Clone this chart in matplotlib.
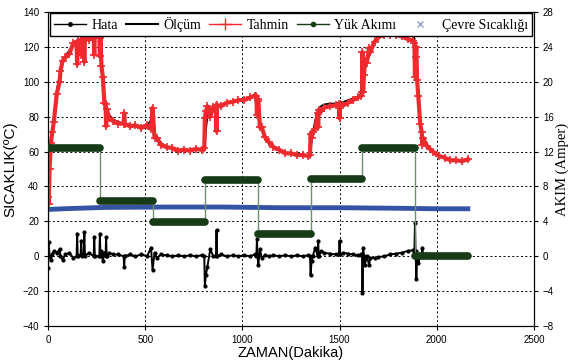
import numpy as np
import matplotlib.pyplot as plt
from matplotlib.lines import Line2D

plt.rcParams['font.family'] = ['Liberation Sans', 'DejaVu Sans']

# zaman (dakika), olcum (C), hata (C)
t = [0, 4, 8, 15, 22, 30, 45, 60, 64, 75, 90, 110, 130, 147, 150, 153, 168, 171, 174,
     184, 187, 190, 210, 235, 238, 241, 264, 267, 270, 275, 282, 290, 296, 299, 302,
     315, 335, 360, 389, 392, 395, 420, 450, 480, 510, 530, 538, 548, 560, 580, 610,
     640, 670, 700, 730, 760, 790, 804, 807, 812, 820, 835, 850, 864, 867, 870, 890,
     920, 950, 980, 1010, 1040, 1065, 1072, 1075, 1078, 1082, 1090, 1100, 1115, 1135,
     1160, 1190, 1220, 1250, 1280, 1310, 1340, 1348, 1351, 1356, 1362, 1375, 1387,
     1390, 1393, 1405, 1420, 1450, 1480, 1497, 1500, 1503, 1520, 1545, 1570, 1595,
     1612, 1616, 1618, 1621, 1626, 1630, 1640, 1652, 1658, 1680, 1700, 1730, 1760,
     1790, 1820, 1850, 1880, 1885, 1888, 1891, 1895, 1899, 1905, 1915, 1923, 1926,
     1929, 1950, 1980, 2010, 2040, 2070, 2100, 2130, 2160]
olcum = [27, 38, 50, 63, 72, 80, 95, 104, 106, 110, 115, 118, 121, 122.5, 123, 123.2, 124.3, 124.5, 124.7,
         125.2, 125.4, 125.5, 126, 126.4, 126.5, 126.6, 127.4, 127.5, 125, 112, 100, 90, 87, 85.5, 84.5,
         81, 78.5, 77, 76, 76, 76, 75.5, 75, 74.5, 75, 78, 77, 70, 67, 65, 63,
         62, 61, 61, 61, 61.5, 61.5, 61.8, 62, 72, 80, 84, 85.5, 86.3, 86.5, 86.6, 87,
         88, 89, 89.5, 90, 91, 93, 92, 91, 89, 85, 78, 73, 69, 65.5,
         63, 61, 59.5, 59, 58.5, 58, 58, 58.3, 59, 65, 71, 78, 82,
         83, 84, 86, 87, 87.5, 87.5, 88, 88, 88, 88.5, 89.5, 90.5, 91.5,
         93, 94, 96, 99, 104, 107, 111, 114.5, 116, 122, 125, 127, 128,
         128.5, 128, 127.5, 127, 125, 122, 117, 107, 99, 88, 76, 71, 69,
         68, 64, 60, 58, 56.5, 55.5, 55, 55, 55.5]
hata = [-7, 8, 0, -2, 1, 3, 2, 4, 0, -2, 1, 2, -1, 0, 13, 0, 1, 9, 0,
        1, 14, 0, 2, 0, 11, 0, 0, 13, 0, 3, -3, 2, 0, 11, 0,
        2, 1, 1, 0, -6, 0, 1, 0, 1, 0, 5, -8, 2, -1, 1, 0.5,
        0, 0.5, 0, 0.5, 0, 0.5, 0, -17, -11, -6, 4, 0, 0, 15, 0, 1,
        0, 0.5, 0, 0.5, 0, 1, 0, 10, 0, -5, 4, -1, 0.5, 0,
        0.5, 0, 0.5, 0, 0.5, 0, 0.5, 0, -11, -3, 0, 5, 0,
        9, 0, 3, 2, 1.5, 1, 1, 9, 1, 2, 1.5, 1, 0.5,
        1, 0, -21, 5, 0, -5, 0, -5, -1, -1, -0.5, 0, 1,
        1.5, 2, 3, 3.5, 3, 19, 3, -13, -2, -4, 0, 0, 5,
        0, 1, 0, 0.5, 0, 0.5, 0, 0.5, 0]

# cevre sicakligi
amb_t = [0, 100, 300, 600, 900, 1200, 1500, 1800, 2000, 2160]
amb = [26.8, 27.3, 28.0, 28.2, 28.2, 27.8, 27.8, 27.5, 27.2, 27.2]

# yuk akimi (Amper)
load_start = [0, 267, 538, 808, 1080, 1352, 1618, 1888]
load_end = [267, 538, 808, 1080, 1352, 1618, 1888, 2160]
load_amp = [12.4, 6.3, 3.9, 8.7, 2.6, 8.8, 12.4, 0.0]

olcum = np.array(olcum)
hata = np.array(hata)
tahmin = olcum - hata

fig = plt.figure(figsize=(5.68, 3.6), dpi=100)
ax = fig.add_axes([0.0845, 0.0944, 0.8555, 0.8723])

ax.plot(amb_t, amb, color='#3553a5', lw=3.5, zorder=2)
ax.plot(t, hata, color='k', lw=1.4, marker='.', ms=4, zorder=3)
ax.plot(t, olcum, color='k', lw=1.3, zorder=4)
ax.plot(t, tahmin, color='#ee2a2e', lw=3, marker='+', ms=6, mew=1.2, zorder=5)

ax.set_xlim(0, 2500)
ax.set_ylim(-40, 140)
ax.set_xticks(np.arange(0, 2501, 500))
ax.set_yticks(np.arange(-40, 141, 20))
ax.grid(True, color='k', ls=(0, (2, 2.5)), lw=0.7)
ax.tick_params(labelsize=7, length=3)
ax.set_xlabel('ZAMAN(Dakika)', fontsize=10.5, labelpad=1)
ax.set_ylabel('SICAKLIK(ºC)', fontsize=11, labelpad=4)

ax2 = ax.twinx()
edges = load_start + [load_end[-1]]
ax2.stairs(load_amp, edges, baseline=0, color='#6f8f6f', lw=1, zorder=2)
ax2.hlines(load_amp, load_start, load_end, color='#173b17', lw=5.5, capstyle='round', zorder=3)
ax2.set_ylim(-8, 28)
ax2.set_yticks(np.arange(-8, 29, 4))
ax2.tick_params(labelsize=7, length=3)
ax2.set_ylabel('AKIM (Amper)', family='Liberation Serif', fontsize=10.5, labelpad=1)

handles = [
    Line2D([], [], color='k', lw=1, marker='.', ms=5),
    Line2D([], [], color='k', lw=1.5),
    Line2D([], [], color='#ee2a2e', lw=1, marker='+', ms=8),
    Line2D([], [], color='#173b17', lw=1, marker='.', ms=6),
    Line2D([], [], color='#8fa0d0', ls='none', marker='x', ms=4),
]
labels = ['Hata', 'Ölçüm', 'Tahmin', 'Yük Akımı', 'Çevre Sıcaklığı']
ax2.legend(handles, labels, loc='upper left', bbox_to_anchor=(0.004, 0.998, 0.992, 0),
           mode='expand', ncol=5, prop={'family': 'Liberation Serif', 'size': 10},
           fancybox=False, edgecolor='k', framealpha=1, handlelength=2.3,
           borderaxespad=0, columnspacing=1, handletextpad=0.4, borderpad=0.3)

fig.savefig('out.png', dpi=100)
